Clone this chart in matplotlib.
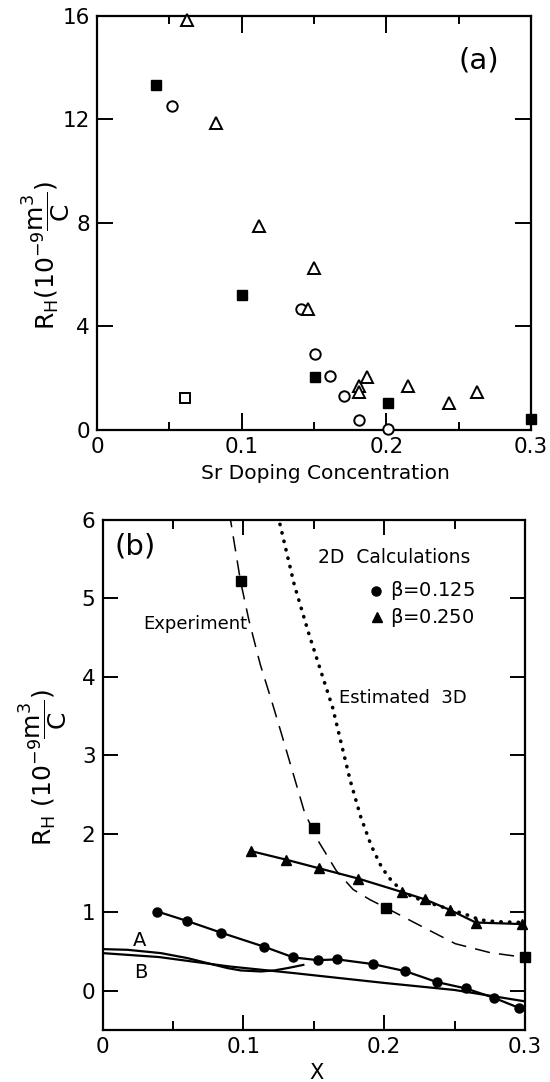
import matplotlib
matplotlib.use('Agg')
import matplotlib.pyplot as plt
from matplotlib.ticker import FixedLocator, FixedFormatter

FONT = 'DejaVu Sans'
plt.rcParams['font.family'] = [FONT]
plt.rcParams['mathtext.fontset'] = 'custom'
plt.rcParams['mathtext.rm'] = FONT
plt.rcParams['mathtext.it'] = FONT + ':italic'
plt.rcParams['mathtext.bf'] = FONT + ':bold'
plt.rcParams['mathtext.default'] = 'regular'

# ---------------- data: panel (a) ----------------
a_fsq_x = [0.041, 0.100, 0.151, 0.201, 0.300]
a_fsq_y = [13.34, 5.21, 2.06, 1.06, 0.41]
a_circ_x = [0.052, 0.141, 0.151, 0.161, 0.171, 0.181, 0.201]
a_circ_y = [12.53, 4.66, 2.93, 2.09, 1.32, 0.40, 0.04]
a_tri_x = [0.062, 0.082, 0.112, 0.150, 0.146, 0.181, 0.181, 0.1865, 0.215, 0.243, 0.2625]
a_tri_y = [15.83, 11.85, 7.87, 6.26, 4.67, 1.70, 1.46, 2.05, 1.69, 1.06, 1.45]
a_osq_x = [0.061]
a_osq_y = [1.25]
a_xticks = [0, 0.1, 0.2, 0.3]
a_xticklabels = ['0', '0.1', '0.2', '0.3']
a_yticks = [0, 4, 8, 12, 16]
a_yticklabels = ['0', '4', '8', '12', '16']

# ---------------- data: panel (b) ----------------
exp_pts_x = [0.098, 0.150, 0.201, 0.300]
exp_pts_y = [5.22, 2.08, 1.06, 0.425]
exp_curve_x = [0.090, 0.098, 0.104, 0.112, 0.120, 0.127, 0.136, 0.1435, 0.1535,
               0.166, 0.178, 0.190, 0.201, 0.2256, 0.2505, 0.2754, 0.300]
exp_curve_y = [6.10, 5.22, 4.72, 4.16, 3.70, 3.28, 2.73, 2.27, 1.90,
               1.53, 1.29, 1.16, 1.06, 0.83, 0.60, 0.485, 0.425]
est3d_x = [0.1240, 0.1261, 0.1361, 0.146, 0.156, 0.1634, 0.1697, 0.1759, 0.1833,
           0.1908, 0.1983, 0.2057, 0.2157, 0.2256, 0.2356, 0.2445, 0.2587, 0.268,
           0.280, 0.300]
est3d_y = [6.05, 5.94, 5.18, 4.58, 4.02, 3.61, 3.14, 2.68, 2.22,
           1.85, 1.57, 1.39, 1.235, 1.16, 1.10, 1.05, 0.968, 0.904,
           0.88, 0.87]
b125_x = [0.039, 0.060, 0.0843, 0.115, 0.1356, 0.153, 0.1667, 0.192, 0.215,
          0.2376, 0.258, 0.278, 0.296]
b125_y = [1.01, 0.89, 0.74, 0.56, 0.425, 0.39, 0.40, 0.34, 0.25,
          0.11, 0.03, -0.09, -0.22]
b250_x = [0.1055, 0.1306, 0.154, 0.1816, 0.2124, 0.2289, 0.2468, 0.265, 0.298]
b250_y = [1.78, 1.67, 1.56, 1.43, 1.26, 1.165, 1.03, 0.87, 0.85]
curveA_x = [0, 0.0178, 0.0414, 0.0604, 0.0746, 0.0888, 0.0982, 0.1124, 0.1219,
            0.1314, 0.1426]
curveA_y = [0.531, 0.522, 0.480, 0.416, 0.352, 0.289, 0.259, 0.246, 0.259,
            0.289, 0.33]
curveB_x = [0, 0.04, 0.09, 0.136, 0.20, 0.25, 0.30]
curveB_y = [0.48, 0.43, 0.31, 0.225, 0.10, 0.01, -0.135]
b_xticks = [0, 0.1, 0.2, 0.3]
b_xticklabels = ['0', '0.1', '0.2', '0.3']
b_yticks = [0, 1, 2, 3, 4, 5, 6]
b_yticklabels = ['0', '1', '2', '3', '4', '5', '6']

W, H = 550, 1082
fig = plt.figure(figsize=(W / 100, H / 100), dpi=100)
fig.patch.set_facecolor('white')

TICK_FS = 15.5


def frame(ax, xt, xtl, yt, ytl, xminor, ymaj_len, xmaj_len, minor_len):
    for s in ax.spines.values():
        s.set_linewidth(1.6)
    ax.xaxis.set_major_locator(FixedLocator(xt))
    ax.xaxis.set_major_formatter(FixedFormatter(xtl))
    ax.xaxis.set_minor_locator(FixedLocator(xminor))
    ax.yaxis.set_major_locator(FixedLocator(yt))
    ax.yaxis.set_major_formatter(FixedFormatter(ytl))
    ax.tick_params(which='both', direction='in', top=True, right=True,
                   width=1.4, labelsize=TICK_FS, pad=5)
    ax.tick_params(axis='y', which='major', length=ymaj_len)
    ax.tick_params(axis='x', which='major', length=xmaj_len)
    ax.tick_params(axis='x', which='minor', length=minor_len)


# ---------------- panel (a) ----------------
axa = fig.add_axes([97 / W, 1 - 430 / H, (531 - 97) / W, (430 - 15.7) / H])
axa.set_xlim(0, 0.3)
axa.set_ylim(0, 16)
frame(axa, a_xticks, a_xticklabels, a_yticks, a_yticklabels,
      [0.05, 0.15, 0.25], 11.5, 12, 6)

axa.plot(a_fsq_x, a_fsq_y, ls='none', marker='s', ms=7, mfc='black', mec='black',
         clip_on=False, zorder=5)
axa.plot(a_circ_x, a_circ_y, ls='none', marker='o', ms=7.5, mfc='white', mec='black',
         mew=1.4, clip_on=False, zorder=5)
axa.plot(a_tri_x, a_tri_y, ls='none', marker='^', ms=8.5, mfc='white', mec='black',
         mew=1.4, clip_on=False, zorder=5)
axa.plot(a_osq_x, a_osq_y, ls='none', marker='s', ms=7.5, mfc='white', mec='black',
         mew=1.4, clip_on=False, zorder=5)

axa.text(0.88, 0.893, '(a)', transform=axa.transAxes, ha='center', va='center',
         fontsize=21)
axa.set_xlabel('Sr Doping Concentration', fontsize=14.5, va='center')
axa.xaxis.set_label_coords(0.5265, -0.104)
axa.set_ylabel(r'$R_H(10^{-9}\dfrac{m^3}{C})$', fontsize=18, va='center')
axa.yaxis.set_label_coords(-0.1175, 0.42)

# ---------------- panel (b) ----------------
axb = fig.add_axes([102.5 / W, 1 - 1030 / H, (525 - 102.5) / W, (1030 - 520) / H])
axb.set_xlim(0, 0.3)
axb.set_ylim(-0.5, 6)
frame(axb, b_xticks, b_xticklabels, b_yticks, b_yticklabels,
      [0.05, 0.15, 0.25], 11, 11, 6.5)

axb.plot(exp_curve_x, exp_curve_y, color='black', lw=1.1, ls=(0, (10, 6)), zorder=3)
axb.plot(est3d_x, est3d_y, color='black', lw=2.6, ls=(0, (0.1, 2.3)),
         dash_capstyle='round', zorder=3)
axb.plot(curveA_x, curveA_y, color='black', lw=1.6, zorder=3)
axb.plot(curveB_x, curveB_y, color='black', lw=1.6, zorder=3)
axb.plot(b125_x, b125_y, color='black', lw=1.6, marker='o', ms=6.5,
         mfc='black', mec='black', clip_on=False, zorder=4)
axb.plot(b250_x, b250_y, color='black', lw=1.6, marker='^', ms=7,
         mfc='black', mec='black', clip_on=False, zorder=4)
axb.plot(exp_pts_x, exp_pts_y, ls='none', marker='s', ms=7, mfc='black',
         mec='black', clip_on=False, zorder=5)

axb.text(0.0765, 0.948, '(b)', transform=axb.transAxes, ha='center', va='center',
         fontsize=21)
axb.text(0.511, 0.9267, '2D  Calculations', transform=axb.transAxes, ha='left',
         va='center', fontsize=13.5)
axb.plot([0.648], [0.861], transform=axb.transAxes, marker='o', ms=6.5,
         color='black', ls='none', clip_on=False)
axb.text(0.681, 0.861, r'$\beta$=0.125', transform=axb.transAxes, ha='left',
         va='center', fontsize=14)
axb.plot([0.650], [0.809], transform=axb.transAxes, marker='^', ms=7,
         color='black', ls='none', clip_on=False)
axb.text(0.681, 0.809, r'$\beta$=0.250', transform=axb.transAxes, ha='left',
         va='center', fontsize=14)
axb.text(0.097, 0.797, 'Experiment', transform=axb.transAxes, ha='left',
         va='center', fontsize=13)
axb.text(0.559, 0.6516, 'Estimated  3D', transform=axb.transAxes, ha='left',
         va='center', fontsize=13)
axb.text(0.087, 0.1763, 'A', transform=axb.transAxes, ha='center', va='center',
         fontsize=14)
axb.text(0.0904, 0.1131, 'B', transform=axb.transAxes, ha='center', va='center',
         fontsize=14)

axb.set_xlabel('X', fontsize=15, va='center')
axb.xaxis.set_label_coords(0.507, -0.0843)
axb.set_ylabel(r'$R_H\ (10^{-9}\dfrac{m^3}{C})$', fontsize=18, va='center')
axb.yaxis.set_label_coords(-0.139, 0.514)

fig.savefig('out.png', dpi=100, facecolor='white')
